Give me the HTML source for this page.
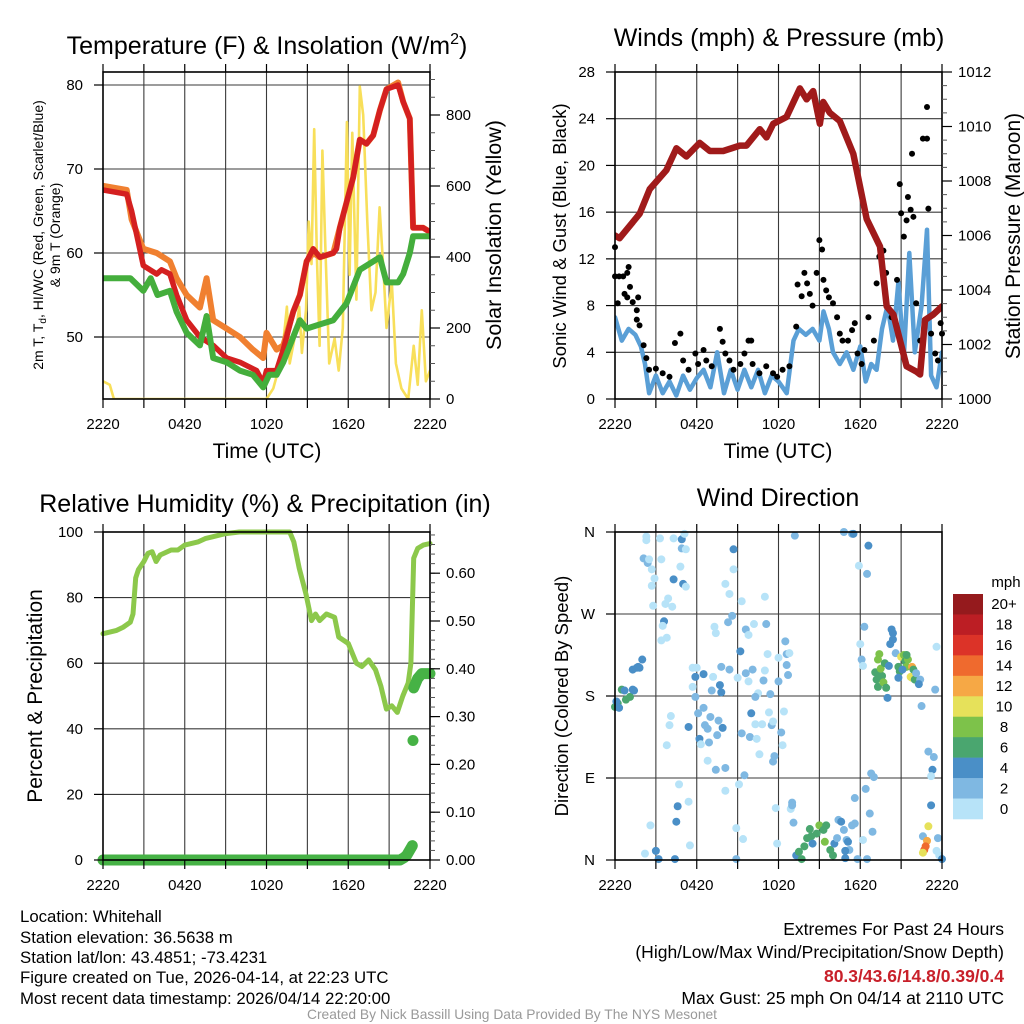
<!DOCTYPE html>
<html><head><meta charset="utf-8"><style>
html,body{margin:0;padding:0;background:#fff;}
svg{display:block;font-family:"Liberation Sans",sans-serif;}
</style></head><body>
<svg id="chart" width="1024" height="1024" viewBox="0 0 1024 1024" xmlns="http://www.w3.org/2000/svg">
<g id="layer"></g>
<g font-size="16.8" fill="#000">
<text x="20" y="922">Location: Whitehall</text>
<text x="20" y="943">Station elevation: 36.5638 m</text>
<text x="20" y="963">Station lat/lon: 43.4851; -73.4231</text>
<text x="20" y="983">Figure created on Tue, 2026-04-14, at 22:23 UTC</text>
<text x="20" y="1004">Most recent data timestamp: 2026/04/14 22:20:00</text>
</g>
<g font-size="17.5" text-anchor="end">
<text x="1004" y="935">Extremes For Past 24 Hours</text>
<text x="1004" y="958">(High/Low/Max Wind/Precipitation/Snow Depth)</text>
<text x="1004" y="982" fill="#c8202a" font-weight="bold">80.3/43.6/14.8/0.39/0.4</text>
<text x="1004" y="1004">Max Gust: 25 mph On 04/14 at 2110 UTC</text>
</g>
<text x="512" y="1019" font-size="13.8" fill="#999" text-anchor="middle">Created By Nick Bassill Using Data Provided By The NYS Mesonet</text>
</svg>
<script>
// ---------- DATA ----------
const xTickLabels = ["2220","0420","1020","1620","2220"];
const tempTicks = [50,60,70,80];
const solarTicks = [0,200,400,600,800];
const windTicks = [0,4,8,12,16,20,24,28];
const presTicks = [1000,1002,1004,1006,1008,1010,1012];
const rhTicks = [0,20,40,60,80,100];
const precipTicks = [0,0.1,0.2,0.3,0.4,0.5,0.6];
const dirTicks = [0,90,180,270,360];
const dirTickLabels = ["N","E","S","W","N"];
const speedBins = ["0","2","4","6","8","10","12","14","16","18","20+"];
const speedColors = ["#b7e3f8","#7fb8e2","#4a8fc7","#4aa66f","#7dc24a","#e6e15a","#f6a845","#ef6a2e","#dc3328","#bc1e24","#951a1d"];

const tempHours = [0,1.74,2.1,2.96,3.94,4.3,4.91,5.4,6.14,7.11,8.09,9.07,10.05,11.27,11.76,12.0,12.74,13.23,13.96,14.45,14.94,15.43,15.92,16.9,17.14,17.38,17.87,18.36,18.85,19.34,19.83,20.32,20.81,21.66,22.03,22.52,22.76,23.5,24];
const tempValues = [67.5,67,65,58.5,57.5,58,57.5,55,52,50,49,47.5,47,46,44.5,46,46,48.5,53,55,59,60.5,59.5,60,60.5,63,66,69,73.5,73,74,77,79.5,80,78,76,63,63,62.5];
const t9Hours = [0,1.74,2.1,2.96,3.94,4.91,5.4,6.14,7.11,7.6,8.09,9.07,10.05,11.0,11.76,12.0,12.74,13.23,13.96,14.45,14.94,15.43,15.92,16.9,17.38,17.87,18.36,18.85,19.34,19.83,20.32,20.81,21.66,22.03,22.52,22.76,23.5,24];
const t9Values = [68,67.5,64,60.5,60,59,57,55,53.5,57,52,51,50,48.5,47.5,50.5,48.5,49,53,55,59,60,59.5,60,63,66,69,73.5,73,74,77,79.5,80.3,78,76,63,63,62.5];
const dewHours = [0,2,2.96,3.5,4,4.91,5.4,6.14,7.11,7.6,8.09,9.07,10.05,11.0,11.76,12.2,12.74,13.23,13.96,14.45,14.94,15.92,16.9,17.87,18.36,18.85,19.83,20.32,20.81,21.66,22.03,22.52,22.76,23.5,24];
const dewValues = [57,57,55.5,57,55,55.5,53,50.5,49,52.5,47.5,47,46,45.5,44,45.5,45.5,47,50,52,51,51.5,52,54,56,58,59,59.5,56.5,56.5,57.5,60,62,62,62];
const solarHours = [0,0.5,0.8,12,12.5,13.0,13.23,13.5,13.7,14.2,14.4,14.6,14.9,15.1,15.3,15.5,15.7,15.9,16.1,16.3,16.6,17.0,17.3,17.6,17.9,18.1,18.3,18.6,18.85,19.1,19.4,19.7,20.0,20.3,20.6,20.81,21.2,21.5,21.9,22.4,22.8,23.1,23.4,23.7,24];
const solarValues = [50,40,0,0,30,100,160,260,100,200,260,130,250,500,380,760,400,150,700,450,100,170,80,200,780,350,750,280,880,800,500,250,300,540,350,200,330,100,30,0,150,40,250,50,80];

const presHours = [0,0.34,1.81,2.55,3.77,4.51,5.24,6.22,6.96,7.94,9.16,9.65,10.63,11.12,11.61,12.59,13.57,14.06,14.55,15.04,15.28,15.77,16.5,17.49,18.47,19.45,19.94,20.43,21.4,22.14,22.39,22.75,23.36,24];
const presValues = [1006.0,1005.9,1006.8,1007.7,1008.4,1009.2,1008.9,1009.4,1009.1,1009.1,1009.3,1009.3,1009.9,1009.6,1010.1,1010.35,1011.4,1011.0,1011.3,1010.1,1010.9,1010.5,1010.2,1009.0,1006.6,1005.6,1003.4,1003.1,1001.2,1001.0,1000.9,1002.9,1003.1,1003.4];
const windHours = [0,0.5,1,1.5,1.9,2.2,2.5,3,3.5,4,4.5,5,5.5,6,6.5,7,7.5,8,8.5,9,9.5,10,10.5,11,11.5,12,12.6,13.1,13.5,14,14.5,15,15.3,15.7,16,16.5,17,17.5,18,18.4,18.8,19.2,19.6,20.0,20.4,20.8,21.2,21.6,22.0,22.5,22.9,23.2,23.6,24];
const windValues = [7,5,6,5.5,4.5,3,0.5,2,0.5,1.5,0.3,2,0.8,1.8,2.5,1,4,0.5,2.5,0.8,2.5,1,2.5,0.5,2,1.5,0.5,5,6,5.5,6,5,7.5,6,4,3,4,2.5,4.5,1.5,3,2.5,6,8,5,10,3.5,12.5,4,8,14.5,2,1,4];
const gustHours = [0,0,0.2,0.3,0.6,0.9,1.0,0.7,0.9,1.1,1.3,1.7,1.6,1.6,1.8,2.1,2.3,2.5,3.0,3.5,4.0,4.4,4.8,5.0,5.4,5.9,6.1,6.5,6.7,7.1,7.7,7.9,8.1,8.4,8.7,9.2,9.5,9.8,10.0,10.1,10.6,11.1,11.6,11.9,12.3,12.8,13.3,13.4,13.7,13.9,14.1,14.3,14.5,14.8,15.0,15.2,15.3,15.5,15.7,16.0,16.3,16.5,16.7,17.1,17.4,17.6,17.8,18.1,18.3,18.6,19.0,19.2,19.4,19.7,19.9,20.3,20.7,20.9,21.0,21.2,21.4,21.5,21.7,21.8,21.9,22.1,22.4,22.6,22.9,22.9,23.0,23.2,23.5,23.7,23.9,24.0];
const gustValues = [13,10.5,8.2,10.5,10.5,10.8,11.3,9,8.7,9.6,8.3,8.7,7.6,6.8,6.3,4.6,3.5,2.5,2.6,2.2,1.9,4.8,5.6,3.3,2.5,3.9,3.0,4.2,3.3,2.8,6.0,4.9,3.9,3.3,2.5,3.0,3.9,5.0,5.0,3.0,2.2,2.8,2.2,1.9,2.5,2.8,6.2,9.8,8.8,10.8,9.9,9.0,8.0,10.8,13.6,12.8,10.2,9.3,8.7,8.2,7.0,5.6,5.0,5.0,5.9,6.5,3.9,3.0,4.2,7.0,5.0,9.9,12.2,12.7,10.8,7.0,10.2,18.4,15.9,13.9,15.3,17.3,16.2,21.0,15.6,8.2,5.0,22.3,22.3,25.0,16.3,5.6,3.9,3.3,6.5,5.6];

const rhHours = [0,1,1.5,2.0,2.2,2.4,2.6,3,3.3,3.6,3.9,4.2,5,5.5,6,7,7.5,8,9,10,12,13.7,14,14.4,14.9,15.3,15.6,15.9,16.4,17,17.3,18,18.6,19,19.5,20,20.4,20.8,21.2,21.6,22,22.4,22.6,22.8,23.1,23.5,24];
const rhValues = [69,70,71,72.5,75,86,88.5,91,93.5,94,91,93,94.5,94.5,96,97,98,98.5,99.5,100,100,100,97,89,81,73,75,73,75,74,68,66,60,59,61,58,53,46,47,45,50,54,60,92,95,96,96.5];
const precipHours = [0,21.8,22.1,22.3,22.5,22.7,22.8,23.1,23.4,24];
const precipValues = [0,0,0.005,0.01,0.02,0.03,0.36,0.38,0.39,0.39];
const precipSegment = [0,0,0,0,0,0,1,1,1,1];
const precipOutlierHour = [22.75];
const precipOutlierValue = [0.25];

const wdHours = [0,0.2,0.5,0.8,1.1,0.3,0.1,0.7,1.3,1.4,1.3,1.6,1.7,1.8,2.0,
2.3,2.3,3.3,2.1,2.4,2.5,2.7,2.9,2.7,3.4,2.8,3.9,3.7,4.2,4.3,4.9,5.1,4.9,5.2,4.8,4.3,5.0,5.2,3.6,3.5,3.8,3.4,4.1,4.0,3.8,5.4,4.7,4.6,4.5,5.4,2.6,2.2,3.0,3.2,4.4,5.5,
5.7,6.0,5.9,6.5,7.2,5.7,5.9,6.1,6.5,7.0,6.6,6.8,7.6,7.9,7.5,6.2,6.3,6.9,6.8,7.4,8.1,7.8,8.4,7.7,7.8,7.1,7.3,7.4,8.1,8.4,8.7,8.7,8.3,8.6,9.2,9.0,9.6,9.8,10.1,10.5,10.3,10.0,9.3,9.9,10.4,10.6,9.6,9.8,10.2,9.3,11.0,11.1,11.2,10.9,11.0,11.4,11.3,11.5,11.6,10.3,10.8,12.2,12.3,12.4,11.7,11.6,12.0,12.0,12.5,12.6,12.8,12.6,12.7,9.5,9.1,8.1,8.9,9.4,11.8,11.9,8.9,13.2,
13.0,12.9,13.0,13.1,13.3,13.5,13.7,13.9,14.1,14.3,14.4,14.5,14.8,15.0,15.3,15.4,15.5,15.8,16.0,16.1,16.3,16.4,16.6,16.8,17.0,17.1,17.2,16.9,16.9,17.4,17.6,17.6,17.8,18.2,18.5,18.7,18.9,18.4,18.8,19.0,16.8,17.4,17.5,17.9,18.5,18.6,18.3,18.0,18.1,18.2,
19.1,19.2,19.3,19.4,19.6,19.7,19.9,19.4,19.3,19.5,19.8,20.1,20.3,20.4,20.4,20.2,20.0,20.6,20.8,20.9,21.0,21.2,21.3,21.4,21.5,21.7,21.8,21.8,21.9,22.0,21.4,20.8,21.1,22.1,22.4,22.3,22.5,23.6,23.5,
23.0,23.4,23.3,23.2,23.2,23.0,22.6,22.9,22.8,22.7,22.6,23.7,23.6,23.8,24.0];
const wdDegrees = [168,172,187,176,179,167,174,186,187,186,209,211,212,211,220,
355,351,353,331,326,330,319,309,301,330,279,287,281,278,353,352,358,342,341,322,308,303,300,262,257,244,241,158,148,126,146,83,59,42,64,38,7,10,1,1,16,
211,211,201,204,201,190,179,161,167,157,148,144,153,145,137,133,127,129,109,99,101,212,209,192,184,186,256,249,303,292,341,319,261,268,229,200,205,196,209,183,179,161,139,135,133,116,253,247,259,284,289,259,226,197,208,182,162,148,152,149,149,140,126,163,114,108,222,196,240,226,227,214,203,93,83,76,35,23,57,18,1,356,
63,56,60,41,5,9,1,15,24,34,26,18,29,38,33,20,38,11,5,18,24,44,42,33,22,20,11,10,2,38,40,68,1,22,1,51,31,78,95,91,360,358,358,323,314,345,256,237,220,213,
206,198,190,205,202,195,189,226,220,210,216,213,253,249,242,237,178,227,212,207,223,225,218,212,220,201,200,212,209,198,225,200,209,205,198,193,169,234,187,
119,113,99,92,60,37,26,21,15,11,8,24,10,5,1];
const wdSpeeds = [7,7,7,7,7,5,5,5,5,5,5,5,5,5,5,
1,1,1,3,3,1,1,1,1,1,1,1,1,1,1,5,1,3,1,1,5,5,1,5,1,1,1,1,1,1,5,1,5,5,1,1,1,5,5,5,1,
1,1,5,5,1,1,3,3,3,3,3,3,3,5,3,5,1,3,1,3,3,3,3,5,5,3,1,1,1,1,5,1,3,3,5,1,3,1,3,1,3,5,3,3,1,1,3,1,1,1,1,3,1,3,1,3,1,3,1,1,1,3,1,1,3,3,1,3,3,3,1,3,3,3,1,1,1,1,1,1,3,3,
3,1,3,3,5,7,7,7,7,7,7,5,7,9,7,9,7,7,7,5,3,3,5,3,3,5,3,5,5,3,3,3,3,1,3,3,3,3,3,3,3,3,5,1,3,5,3,1,3,1,
7,7,7,7,7,9,7,9,9,9,7,5,5,5,5,5,5,3,7,7,11,9,7,9,9,11,11,13,7,7,7,5,5,3,3,5,3,1,3,
3,3,5,1,5,11,3,13,15,15,11,3,1,1,5];

// ---------- HELPERS ----------
const NS = "http://www.w3.org/2000/svg";
const layer = document.getElementById("layer");
function mk(tag, attrs, parent) {
  const e = document.createElementNS(NS, tag);
  for (const k in attrs) e.setAttribute(k, attrs[k]);
  (parent || layer).appendChild(e);
  return e;
}
function txt(s, x, y, size, anchor, parent, rot) {
  const t = mk("text", {x: x, y: y, "font-size": size, "text-anchor": anchor || "middle", fill: "#000"}, parent);
  if (rot) t.setAttribute("transform", "rotate(-90 " + x + " " + y + ")");
  t.textContent = s;
  return t;
}
function panel(name, x0, y0, x1, y1) {
  const g = mk("g", {});
  
  
  return {g: g, x0: x0, y0: y0, x1: x1, y1: y1, xT: h => x0 + h * (x1 - x0) / 24};
}
function grid(P, yVals, yFn) {
  const gg = mk("g", {stroke: "#3a3a3a", "stroke-width": 1.1}, P.g);
  
  
  for (let i = 1; i < 8; i++) {
    const x = P.xT(i * 3);
    mk("line", {x1: x, y1: P.y0, x2: x, y2: P.y1}, gg);
  }
  yVals.forEach(v => { const y = yFn(v); if (y > P.y0 + 1 && y < P.y1 - 1) mk("line", {x1: P.x0, y1: y, x2: P.x1, y2: y}, gg); });
}
function frame(P) {
  const r = mk("rect", {x: P.x0, y: P.y0, width: P.x1 - P.x0, height: P.y1 - P.y0, fill: "none", stroke: "#000", "stroke-width": 1.6}, P.g);
  
  
}
function xAxis(P, labelY) {
  const g = mk("g", {}, P.g);
  
  
  for (let i = 0; i <= 8; i++) {
    const x = P.xT(i * 3);
    mk("line", {x1: x, y1: P.y1, x2: x, y2: P.y1 + 9, stroke: "#000", "stroke-width": 1.2}, g);
    mk("line", {x1: x, y1: P.y0, x2: x, y2: P.y0 - 8, stroke: "#000", "stroke-width": 1.2}, g);
  }
  xTickLabels.forEach((s, i) => {
    const t = txt(s, P.xT(i * 6), labelY, 15, "middle", g);
    
    
  });
}
function yAxisLeft(P, vals, fn, labels) {
  const g = mk("g", {}, P.g);
  
  
  vals.forEach((v, i) => {
    const y = fn(v);
    mk("line", {x1: P.x0 - 9, y1: y, x2: P.x0, y2: y, stroke: "#000", "stroke-width": 1.2}, g);
    const t = txt(labels ? labels[i] : String(v), P.x0 - 20, y + 5, 15, "end", g);
    
    
  });
}
function yAxisRight(P, vals, fn, fmt, minorStep, lo, hi) {
  const g = mk("g", {}, P.g);
  
  
  for (let v = lo; v <= hi + 1e-9; v += minorStep) {
    const y = fn(v);
    if (y >= P.y0 - 0.5 && y <= P.y1 + 0.5) mk("line", {x1: P.x1, y1: y, x2: P.x1 + 5, y2: y, stroke: "#555", "stroke-width": 1}, g);
  }
  vals.forEach(v => {
    const y = fn(v);
    mk("line", {x1: P.x1, y1: y, x2: P.x1 + 10, y2: y, stroke: "#000", "stroke-width": 1.2}, g);
    const t = txt(fmt(v), P.x1 + 16, y + 5, 15, "start", g);
    
    
  });
}
function line(P, hours, vals, yFn, color, w, name, clip) {
  const pts = hours.map((h, i) => P.xT(h).toFixed(1) + "," + yFn(vals[i]).toFixed(1)).join(" ");
  const pl = mk("polyline", {points: pts, fill: "none", stroke: color, "stroke-width": w, "stroke-linejoin": "round", "stroke-linecap": "round"}, P.g);
  if (clip) pl.setAttribute("clip-path", clip);
  
  
  return pl;
}
function clipFor(P, id) {
  const d = mk("clipPath", {id: id}, P.g);
  mk("rect", {x: P.x0, y: P.y0, width: P.x1 - P.x0, height: P.y1 - P.y0}, d);
  return "url(#" + id + ")";
}

// ---------- PANEL 1 ----------
{
  const P = panel("temperature-panel", 103, 72, 430, 399);
  const yT = v => 85 + (80 - v) * 8.4;
  const yS = v => 399 - v * 0.355;
  grid(P, [50, 60, 70, 80], yT);
  const c = clipFor(P, "c1");
  line(P, solarHours, solarValues, yS, "#f8df5a", 2.6, "solar-insolation-line", c);
  line(P, t9Hours, t9Values, yT, "#f08030", 6, "temp-9m-line", c);
  line(P, tempHours, tempValues, yT, "#d42020", 5.5, "temp-2m-line", c);
  line(P, dewHours, dewValues, yT, "#44ae3c", 6, "dewpoint-line", c);
  frame(P);
  xAxis(P, 429);
  yAxisLeft(P, tempTicks, yT);
  yAxisRight(P, solarTicks, yS, v => String(v), 50, 0, 900);
  const ti = mk("text", {x: 267, y: 54, "font-size": 25, "text-anchor": "middle"}, P.g);
  ti.innerHTML = 'Temperature (F) &amp; Insolation (W/m<tspan font-size="16" dy="-10">2</tspan><tspan dy="10">)</tspan>';
  
  
  const xl = txt("Time (UTC)", 267, 458, 21, "middle", P.g);
  
  
  const yl = mk("text", {x: 43, y: 235, "font-size": 14, "text-anchor": "middle", transform: "rotate(-90 43 235)"}, P.g);
  yl.innerHTML = '2m T, T<tspan font-size="10" dy="3">d</tspan><tspan dy="-3">, HI/WC (Red, Green, Scarlet/Blue)</tspan>';
  
  
  const yl2 = txt("& 9m T (Orange)", 60, 235, 14, "middle", P.g, true);
  
  
  const yr = txt("Solar Insolation (Yellow)", 501, 235, 21.5, "middle", P.g, true);
  
  
}

// ---------- PANEL 2 ----------
{
  const P = panel("winds-panel", 615, 72, 942, 399);
  const yW = v => 399 - v * 327 / 28;
  const yP = p => 399 - (p - 1000) * 327 / 12;
  grid(P, windTicks, yW);
  const c = clipFor(P, "c2");
  line(P, windHours, windValues, yW, "#5a9fd6", 4.5, "sonic-wind-line", c);
  const gd = mk("g", {fill: "#000"}, P.g);
  
  
  gustHours.forEach((h, i) => {
    const d = mk("circle", {cx: P.xT(h), cy: yW(gustValues[i]), r: 3}, gd);
    
    
  });
  line(P, presHours, presValues, yP, "#a01a1a", 6.5, "pressure-line", c);
  frame(P);
  xAxis(P, 429);
  yAxisLeft(P, windTicks, yW);
  yAxisRight(P, presTicks, yP, v => String(v), 0.5, 1000, 1012);
  const ti = txt("Winds (mph) & Pressure (mb)", 779, 46, 25, "middle", P.g);
  
  
  const xl = txt("Time (UTC)", 778, 458, 21, "middle", P.g);
  
  
  const yl = txt("Sonic Wind & Gust (Blue, Black)", 566, 236, 18.5, "middle", P.g, true);
  
  
  const yr = txt("Station Pressure (Maroon)", 1020, 236, 21, "middle", P.g, true);
  
  
}

// ---------- PANEL 3 ----------
{
  const P = panel("humidity-panel", 103, 532, 430, 860);
  const yR = v => 860 - v * 3.28;
  const yPr = v => 860 - v * 478;
  grid(P, rhTicks, yR);
  line(P, rhHours, rhValues, yR, "#8cc84b", 5, "humidity-line", null);
  [0, 1].forEach(s => {
    const hs = [], vs = [];
    precipHours.forEach((h, i) => { if (precipSegment[i] === s) { hs.push(h); vs.push(precipValues[i]); } });
    line(P, hs, vs, yPr, "#46b245", 11, "precip-line", null);
  });
  precipOutlierHour.forEach((h, i) => {
    const d = mk("circle", {cx: P.xT(h), cy: yPr(precipOutlierValue[i]), r: 5.5, fill: "#46b245"}, P.g);
    
    
  });
  frame(P);
  xAxis(P, 890);
  yAxisLeft(P, rhTicks, yR);
  yAxisRight(P, precipTicks, yPr, v => v.toFixed(2), 0.02, 0, 0.68);
  const ti = txt("Relative Humidity (%) & Precipitation (in)", 265, 512, 25, "middle", P.g);
  
  
  const yl = txt("Percent & Precipitation", 42, 696, 21, "middle", P.g, true);
  
  
}

// ---------- PANEL 4 ----------
{
  const P = panel("wind-direction-panel", 615, 532, 942, 860);
  const yD = d => 860 - d * 328 / 360;
  grid(P, dirTicks, yD);
  const gd = mk("g", {}, P.g);
  
  
  wdHours.forEach((h, i) => {
    const bin = Math.min(10, Math.floor(wdSpeeds[i] / 2));
    const d = mk("circle", {cx: P.xT(h), cy: yD(wdDegrees[i]), r: 4, fill: speedColors[bin]}, gd);
    
    
  });
  frame(P);
  xAxis(P, 890);
  yAxisLeft(P, dirTicks, yD, dirTickLabels);
  const ti = txt("Wind Direction", 778, 506, 25, "middle", P.g);
  
  
  const yl = txt("Direction (Colored By Speed)", 568, 696, 18.5, "middle", P.g, true);
  
  
  const cb = mk("g", {}, P.g);
  
  
  const bh = 225 / speedBins.length;
  speedBins.forEach((lab, i) => {
    const j = speedBins.length - 1 - i;
    const y = 594 + i * bh;
    const r = mk("rect", {x: 953, y: y, width: 30, height: bh + 0.3, fill: speedColors[j]}, cb);
    
    
    const t = txt(speedBins[j], 1004, y + bh / 2 + 5, 15, "middle", cb);
    
    
  });
  const u = txt("mph", 1006, 587, 15, "middle", cb);
  
  
}
</script>
</body></html>
